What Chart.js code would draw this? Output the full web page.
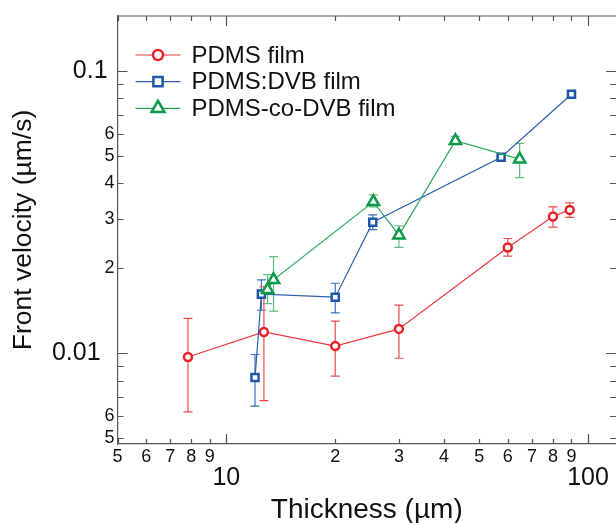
<!DOCTYPE html>
<html>
<head>
<meta charset="utf-8">
<script src="https://cdn.jsdelivr.net/npm/chart.js@4.4.1/dist/chart.umd.min.js"></script>
<style>
  html, body { margin: 0; padding: 0; background: #fff; }
</style>
</head>
<body>
<canvas id="chart" width="616" height="523"></canvas>
<script>
// PDMS film
const pdmsX = [7.83, 12.7, 20, 30, 60, 80, 89];
const pdmsY = [0.0097, 0.0119, 0.0106, 0.0122, 0.0237, 0.0305, 0.0322];
const pdmsLo = [0.0062, 0.0068, 0.0083, 0.0096, 0.0221, 0.0280, 0.0303];
const pdmsHi = [0.0133, 0.0172, 0.0130, 0.0148, 0.0255, 0.0330, 0.0341];

// PDMS:DVB film
const dvbX = [12.0, 12.5, 20, 25.4, 57.5, 90];
const dvbY = [0.0082, 0.0162, 0.0158, 0.0291, 0.0495, 0.0827];
const dvbLo = [0.0065, 0.0142, 0.0139, 0.0274, null, null];
const dvbHi = [0.0099, 0.0182, 0.0177, 0.0309, null, null];

// PDMS-co-DVB film
const coX = [13.0, 13.5, 25.5, 30, 43, 64.7];
const coY = [0.0168, 0.0182, 0.0344, 0.0262, 0.0566, 0.0487];
const coLo = [0.0150, 0.0141, 0.0330, 0.0237, 0.0550, 0.0419];
const coHi = [0.0190, 0.0220, 0.0364, 0.0283, 0.0587, 0.0554];

const xTicks = [5, 6, 7, 8, 9, 10, 20, 30, 40, 50, 60, 70, 80, 90, 100];
const xMajor = [10, 100];
const yTicks = [0.005, 0.006, 0.007, 0.008, 0.009, 0.01, 0.02, 0.03, 0.04, 0.05, 0.06, 0.07, 0.08, 0.09, 0.1];
const yMajor = [0.01, 0.1];
const yLabelled = [0.005, 0.006, 0.02, 0.03, 0.04, 0.05, 0.06];

const FONT = "'Liberation Sans', Arial, sans-serif";
const AXIS = '#555';

function isIn(list, v) {
    return list.some(t => Math.abs(t - v) / t < 1e-6);
}

function pts(xs, ys) {
    return xs.map((x, i) => ({ x: x, y: ys[i] }));
}

function leadDigit(v) {
    return String(Math.round(v / Math.pow(10, Math.floor(Math.log10(v) + 1e-9))));
}

const errorBars = {
    id: 'errorBars',
    beforeDatasetsDraw(chart) {
        const ctx = chart.ctx;
        const xs = chart.scales.x, ys = chart.scales.y;
        chart.data.datasets.forEach(ds => {
            ctx.save();
            ctx.strokeStyle = ds.errColor;
            ctx.lineWidth = 1.2;
            ds.data.forEach((p, i) => {
                const lo = ds.errLo[i], hi = ds.errHi[i];
                if (lo == null || hi == null) return;
                const px = xs.getPixelForValue(p.x);
                const y1 = ys.getPixelForValue(hi);
                const y2 = ys.getPixelForValue(lo);
                ctx.beginPath();
                ctx.moveTo(px, y1); ctx.lineTo(px, y2);
                ctx.moveTo(px - 4.5, y1); ctx.lineTo(px + 4.5, y1);
                ctx.moveTo(px - 4.5, y2); ctx.lineTo(px + 4.5, y2);
                ctx.stroke();
            });
            ctx.restore();
        });
    }
};

const frameTicks = {
    id: 'frameTicks',
    afterDraw(chart) {
        const ctx = chart.ctx;
        const a = chart.chartArea;
        const xs = chart.scales.x, ys = chart.scales.y;
        ctx.save();
        ctx.strokeStyle = AXIS;
        ctx.lineWidth = 1.2;
        ctx.beginPath();
        ctx.moveTo(a.left, a.top); ctx.lineTo(a.right, a.top);
        xTicks.forEach(v => {
            const px = Math.round(xs.getPixelForValue(v)) + 0.5;
            const len = isIn(xMajor, v) ? 10 : 5;
            ctx.moveTo(px, a.bottom); ctx.lineTo(px, a.bottom - len);
            ctx.moveTo(px, a.top); ctx.lineTo(px, a.top + len);
        });
        yTicks.forEach(v => {
            const py = Math.round(ys.getPixelForValue(v)) + 0.5;
            const len = isIn(yMajor, v) ? 10 : 6;
            ctx.moveTo(a.left, py); ctx.lineTo(a.left + len, py);
            ctx.moveTo(a.right, py); ctx.lineTo(a.right - len, py);
        });
        ctx.stroke();
        ctx.restore();
    }
};

const lineLegend = {
    id: 'lineLegend',
    afterDraw(chart) {
        const ctx = chart.ctx;
        const a = chart.chartArea;
        const rows = [39, 65.7, 92.3];
        const order = [2, 1, 0];
        ctx.save();
        order.forEach((di, r) => {
            const ds = chart.data.datasets[di];
            const y = a.top + rows[r];
            const x0 = a.left + 18;
            ctx.strokeStyle = ds.borderColor;
            ctx.lineWidth = 1.2;
            ctx.beginPath();
            ctx.moveTo(x0, y); ctx.lineTo(x0 + 45, y);
            ctx.stroke();
            ctx.fillStyle = '#fff';
            ctx.strokeStyle = ds.pointBorderColor;
            ctx.lineWidth = ds.pointBorderWidth;
            Chart.helpers.drawPoint(ctx, {
                pointStyle: ds.pointStyle,
                radius: ds.legendRadius,
                rotation: 0,
                borderWidth: ds.pointBorderWidth
            }, x0 + 22.5, y);
            ctx.fillStyle = '#111';
            ctx.font = '24px ' + FONT;
            ctx.textBaseline = 'middle';
            ctx.textAlign = 'left';
            ctx.fillText(ds.label, x0 + 56, y + 1);
        });
        ctx.restore();
    }
};

new Chart(document.getElementById('chart'), {
    type: 'scatter',
    data: {
        datasets: [
            {
                label: 'PDMS-co-DVB film',
                data: pts(coX, coY),
                errLo: coLo, errHi: coHi,
                errColor: '#5cbf7f',
                showLine: true,
                borderColor: '#2aa85a',
                borderWidth: 1.2,
                pointStyle: 'triangle',
                pointRadius: 6.5,
                legendRadius: 7.5,
                pointBorderWidth: 2.5,
                pointBorderColor: '#0a9a48',
                pointBackgroundColor: '#fff',
                order: 1
            },
            {
                label: 'PDMS:DVB film',
                data: pts(dvbX, dvbY),
                errLo: dvbLo, errHi: dvbHi,
                errColor: '#3e6fbf',
                showLine: true,
                borderColor: '#2a5fb0',
                borderWidth: 1.2,
                pointStyle: 'rect',
                pointRadius: 5,
                legendRadius: 6.5,
                pointBorderWidth: 2.5,
                pointBorderColor: '#1f57a6',
                pointBackgroundColor: '#fff',
                order: 2
            },
            {
                label: 'PDMS film',
                data: pts(pdmsX, pdmsY),
                errLo: pdmsLo, errHi: pdmsHi,
                errColor: '#ef4a4f',
                showLine: true,
                borderColor: '#ec3a3f',
                borderWidth: 1.2,
                pointStyle: 'circle',
                pointRadius: 4,
                legendRadius: 5,
                pointBorderWidth: 2.5,
                pointBorderColor: '#e8202a',
                pointBackgroundColor: '#fff',
                order: 3
            }
        ]
    },
    options: {
        responsive: false,
        animation: false,
        devicePixelRatio: 1,
        layout: { autoPadding: false, padding: { top: 16, right: 0, bottom: 0, left: 0 } },
        plugins: {
            legend: { display: false },
            tooltip: { enabled: false }
        },
        scales: {
            x: {
                type: 'logarithmic',
                position: 'bottom',
                min: 5,
                max: 119.5,
                afterBuildTicks: s => { s.ticks = xTicks.map(v => ({ value: v })); },
                afterFit: s => { s.height = 79; s.paddingLeft = 0; s.paddingRight = 0; },
                grid: { display: false, drawTicks: false },
                border: { display: true, color: AXIS, width: 1.2 },
                ticks: {
                    autoSkip: false,
                    maxRotation: 0,
                    minRotation: 0,
                    padding: 2,
                    color: '#111',
                    font: c => isIn(xMajor, c.tick.value)
                        ? { family: FONT, size: 25, lineHeight: 0.853 }
                        : { family: FONT, size: 18, lineHeight: 1.2 },
                    callback: v => isIn(xMajor, v) ? ['', String(v)] : leadDigit(v)
                },
                title: {
                    display: true,
                    text: 'Thickness (µm)',
                    color: '#111',
                    font: { family: FONT, size: 28, lineHeight: 0.9 },
                    padding: { top: 0, bottom: 0 }
                }
            },
            y: {
                type: 'logarithmic',
                position: 'left',
                min: 0.00477,
                max: 0.1566,
                afterBuildTicks: s => { s.ticks = yTicks.map(v => ({ value: v })); },
                afterFit: s => { s.width = 117.5; s.paddingTop = 0; s.paddingBottom = 0; },
                grid: { display: false, drawTicks: false },
                border: { display: true, color: AXIS, width: 1.2 },
                ticks: {
                    autoSkip: false,
                    padding: 3,
                    color: '#111',
                    font: c => isIn(yMajor, c.tick.value)
                        ? { family: FONT, size: 25 }
                        : { family: FONT, size: 18 },
                    callback: v => {
                        if (Math.abs(v - 0.1) < 1e-9) return '0.1 ';
                        if (Math.abs(v - 0.01) < 1e-9) return '0.01  ';
                        return isIn(yLabelled, v) ? leadDigit(v) : '';
                    }
                },
                title: {
                    display: true,
                    text: 'Front velocity (µm/s)',
                    color: '#111',
                    font: { family: FONT, size: 26.5 },
                    padding: { top: 8, bottom: 0 }
                }
            }
        }
    },
    plugins: [errorBars, frameTicks, lineLegend]
});
</script>
</body>
</html>
